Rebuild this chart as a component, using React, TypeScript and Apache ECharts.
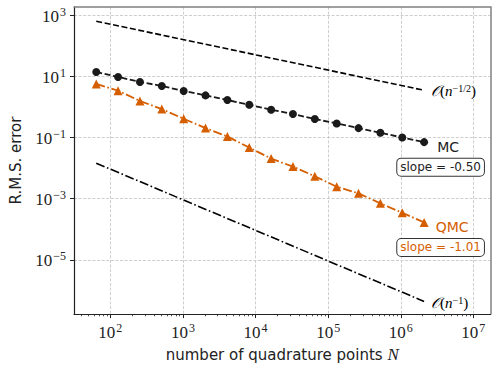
import React, { useEffect, useRef } from 'react';
import * as echarts from 'echarts';

const quadPoints = [64, 128, 256, 512, 1024, 2048, 4096, 8192, 16384, 32768, 65536, 131072, 262144, 524288, 1048576, 2097152];
const mcError = [13.9, 9.55, 6.55, 4.84, 3.32, 2.38, 1.68, 1.18, 0.809, 0.585, 0.401, 0.288, 0.203, 0.143, 0.1, 0.0706];
const qmcError = [5.64, 3.4, 1.56, 0.853, 0.41, 0.203, 0.108, 0.047, 0.0205, 0.0112, 0.00542, 0.00247, 0.0015, 0.000706, 0.000347, 0.000168];
const rateN = [64, 2097152];
const rateHalf = [631, 3.49];
const rateOne = [0.0145, 4.4e-7];
const xTickExps = [2, 3, 4, 5, 6, 7];
const yTickExps = [-5, -3, -1, 1, 3];
const mcSlope = '-0.50';
const qmcSlope = '-1.01';

const ORANGE = '#D55E00';
const SERIF = '"Liberation Serif", "DejaVu Serif", serif';
const SANS = '"DejaVu Sans", sans-serif';

export default function App() {
  const ref = useRef<HTMLDivElement>(null);
  useEffect(() => {
    const chart = echarts.init(ref.current!, null, { renderer: 'svg' });
    const lg = Math.log10;
    const pts = (xs: number[], ys: number[]) => xs.map((x, i) => [lg(x), lg(ys[i])]);
    const xMin = 1.5, xMax = 7.236, yMin = -6.77, yMax = 3.265;
    const minor: number[] = [];
    for (let e = 1; e <= 7; e++) for (let k = 2; k <= 9; k++) {
      const v = lg(k * Math.pow(10, e));
      if (v > xMin && v < xMax) minor.push(v);
    }
    const expFmt = (v: number) => `{b|10}{s|${v < 0 ? '\u2212' + (-v) : v}}`;
    const tickRich = {
      b: { fontFamily: SERIF, fontSize: 17, color: '#222', lineHeight: 19, verticalAlign: 'bottom' },
      s: { fontFamily: SERIF, fontSize: 12, color: '#222', lineHeight: 19, verticalAlign: 'top', padding: [0, 0, 0, 1] },
    };
    const option: any = {
      animation: false,
      grid: { left: 70, top: 7, right: 7.5, bottom: 53 },
      xAxis: [
        {
          type: 'value', min: xMin, max: xMax, position: 'bottom',
          axisLine: { onZero: false, lineStyle: { color: '#222', width: 1.2 } },
          axisTick: { customValues: xTickExps, length: 4, lineStyle: { color: '#222', width: 1 } },
          axisLabel: { customValues: xTickExps, formatter: expFmt, rich: tickRich, margin: 8 },
          splitLine: { show: true, lineStyle: { color: '#c8c8c8', type: [3, 1.6], width: 0.9 } },
          name: 'number of quadrature points {i|N}', nameLocation: 'middle', nameGap: 28,
          nameTextStyle: {
            fontFamily: SANS, fontSize: 15, color: '#222',
            rich: { i: { fontFamily: SERIF, fontStyle: 'italic', fontSize: 17, color: '#222' } },
          },
        },
        {
          type: 'value', min: xMin, max: xMax, position: 'bottom',
          axisLine: { show: false, onZero: false },
          axisTick: { customValues: minor, length: 2.2, lineStyle: { color: '#222', width: 0.8 } },
          axisLabel: { show: false },
          splitLine: { show: false },
        },
        {
          type: 'value', min: xMin, max: xMax, position: 'top',
          axisLine: { onZero: false, lineStyle: { color: '#808080', width: 1.5 } },
          axisTick: { show: false }, axisLabel: { show: false }, splitLine: { show: false },
        },
      ],
      yAxis: [
        {
          type: 'value', min: yMin, max: yMax, position: 'left',
          axisLine: { onZero: false, lineStyle: { color: '#222', width: 1.2 } },
          axisTick: { customValues: yTickExps, length: 4, lineStyle: { color: '#222', width: 1 } },
          axisLabel: { customValues: yTickExps, formatter: expFmt, rich: tickRich, margin: 8 },
          splitLine: { show: true, lineStyle: { color: '#c8c8c8', type: [3, 1.6], width: 0.9 } },
          name: 'R.M.S. error', nameLocation: 'middle', nameGap: 51, nameRotate: 90,
          nameTextStyle: { fontFamily: SANS, fontSize: 15, color: '#222' },
        },
        {
          type: 'value', min: yMin, max: yMax, position: 'right',
          axisLine: { onZero: false, lineStyle: { color: '#808080', width: 1.5 } },
          axisTick: { show: false }, axisLabel: { show: false }, splitLine: { show: false },
        },
      ],
      series: [
        {
          type: 'line', data: pts(rateN, rateHalf), symbol: 'none',
          lineStyle: { color: '#000', width: 1.6, type: [6, 2.6] },
        },
        {
          type: 'line', data: pts(rateN, rateOne), symbol: 'none',
          lineStyle: { color: '#000', width: 1.6, type: [9, 2.6, 1.6, 2.6] },
        },
        {
          type: 'line', data: pts(quadPoints, mcError), symbol: 'circle', symbolSize: 8,
          itemStyle: { color: '#1a1a1a' },
          lineStyle: { color: '#1a1a1a', width: 1.8, type: [6, 2.6] },
        },
        {
          type: 'line', data: pts(quadPoints, qmcError), symbol: 'triangle', symbolSize: 9,
          itemStyle: { color: ORANGE },
          lineStyle: { color: ORANGE, width: 1.8, type: [9, 2.6, 1.6, 2.6] },
        },
      ],
    };
    chart.setOption(option);

    const endPx = (si: number, xs: number[], ys: number[]) =>
      chart.convertToPixel({ seriesIndex: si }, [lg(xs[xs.length - 1]), lg(ys[ys.length - 1])]) as number[];
    const pHalf = endPx(0, rateN, rateHalf);
    const pOne = endPx(1, rateN, rateOne);
    const pMc = endPx(2, quadPoints, mcError);
    const pQmc = endPx(3, quadPoints, qmcError);
    const oRich = (c: string) => ({
      o: { fontFamily: SERIF, fontStyle: 'italic', fontSize: 15, color: c },
      p: { fontFamily: SERIF, fontSize: 15, color: c },
      n: { fontFamily: SERIF, fontStyle: 'italic', fontSize: 15, color: c },
      e: { fontFamily: SERIF, fontSize: 10, color: c, verticalAlign: 'top', lineHeight: 16 },
    });
    const boxStyle = (text: string, color: string) => ({
      text, fill: color, fontFamily: SANS, fontSize: 12, align: 'center', verticalAlign: 'middle',
      backgroundColor: '#fff', borderColor: '#333', borderWidth: 1, borderRadius: 4, padding: [3, 3, 2, 3],
    });
    chart.setOption({
      graphic: [
        {
          type: 'text', x: pHalf[0] + 7, y: pHalf[1] + 1,
          style: { text: '{o|\u{1D4AA}}{p|(}{n|n}{e|\u22121/2}{p|)}', rich: oRich('#333'), align: 'left', verticalAlign: 'middle' },
        },
        {
          type: 'text', x: pOne[0] + 7, y: pOne[1] + 2,
          style: { text: '{o|\u{1D4AA}}{p|(}{n|n}{e|\u22121}{p|)}', rich: oRich('#333'), align: 'left', verticalAlign: 'middle' },
        },
        {
          type: 'text', x: pMc[0] + 24, y: pMc[1] + 5,
          style: { text: 'MC', fill: '#222', fontFamily: SANS, fontSize: 14, align: 'center', verticalAlign: 'middle' },
        },
        { type: 'text', x: pMc[0] + 16.5, y: pMc[1] + 25, style: boxStyle('slope = ' + mcSlope, '#222') },
        {
          type: 'text', x: pQmc[0] + 28, y: pQmc[1] + 5,
          style: { text: 'QMC', fill: ORANGE, fontFamily: SANS, fontSize: 14, align: 'center', verticalAlign: 'middle' },
        },
        { type: 'text', x: pQmc[0] + 16.5, y: pQmc[1] + 25, style: boxStyle('slope = ' + qmcSlope, ORANGE) },
      ],
    });
    return () => chart.dispose();
  }, []);
  return <div ref={ref} style={{ width: 498, height: 368, position: 'absolute', left: 0, top: 0 }} />;
}
